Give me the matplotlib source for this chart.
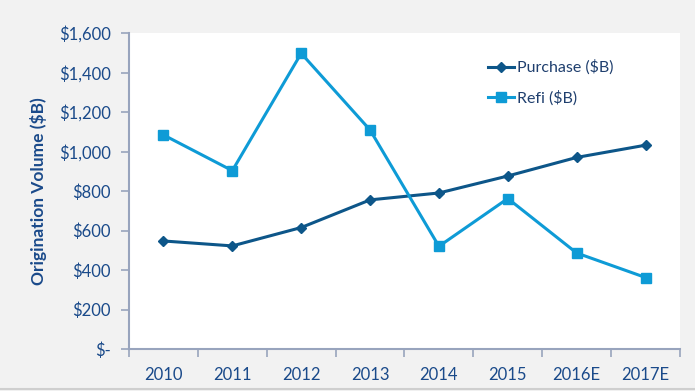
import matplotlib
matplotlib.use("Agg")
import matplotlib.pyplot as plt
import numpy as np

categories = ["2010", "2011", "2012", "2013", "2014", "2015", "2016E", "2017E"]
purchase = [547, 522, 615, 755, 790, 876, 970, 1032]
refi = [1084, 903, 1497, 1109, 520, 762, 486, 362]
yticks = [0, 200, 400, 600, 800, 1000, 1200, 1400, 1600]
ytick_labels = ["$-", "$200", "$400", "$600", "$800", "$1,000", "$1,200", "$1,400", "$1,600"]

plt.rcParams['font.family'] = ['Lato', 'DejaVu Sans']

text_color = "#1a4a8a"
spine_color = "#98a4bd"
c_purchase = "#0d5689"
c_refi = "#0e9bd6"

fig = plt.figure(figsize=(6.95, 3.91), dpi=100, facecolor="#f2f2f2")
ax = fig.add_axes([129/695, (391-349)/391, (680-129)/695, (349-33)/391])
ax.set_facecolor("white")

x = np.arange(len(categories))
ax.plot(x, purchase, color=c_purchase, lw=2.2, marker="D", ms=5.5, label="Purchase ($B)")
ax.plot(x, refi, color=c_refi, lw=2.2, marker="s", ms=7, label="Refi ($B)")

ax.set_xlim(-0.5, len(categories) - 0.5)
ax.set_ylim(0, 1600)
ax.set_yticks(yticks)
ax.set_yticklabels(ytick_labels)
ax.set_xticks(x)
ax.set_xticklabels(categories)
ax.set_xticks(np.arange(-0.5, len(categories)), minor=True)

for s in ["top", "right"]:
    ax.spines[s].set_visible(False)
for s in ["left", "bottom"]:
    ax.spines[s].set_color(spine_color)
    ax.spines[s].set_linewidth(1.5)

ax.tick_params(axis="y", which="major", direction="out", length=6, width=1.2, color=spine_color,
               labelsize=12, labelcolor=text_color, pad=7)
ax.tick_params(axis="x", which="major", length=0, labelsize=12, labelcolor=text_color, pad=13)
ax.tick_params(axis="x", which="minor", direction="out", length=6, width=1.2, color=spine_color)

ax.set_ylabel("Origination Volume ($B)", fontsize=12.5, fontweight="bold", color=text_color, labelpad=9)

leg = ax.legend(loc="upper left", bbox_to_anchor=(0.64, 0.935), frameon=False, fontsize=11.5,
                handlelength=1.6, handletextpad=0.2, labelspacing=0.95, borderaxespad=0)
for t in leg.get_texts():
    t.set_color("#1f3f6e")

fig.add_artist(plt.Line2D([0, 1], [2/391, 2/391], color="#cfcfcf", lw=1.5, transform=fig.transFigure))

fig.savefig("out.png", dpi=100, facecolor=fig.get_facecolor())
